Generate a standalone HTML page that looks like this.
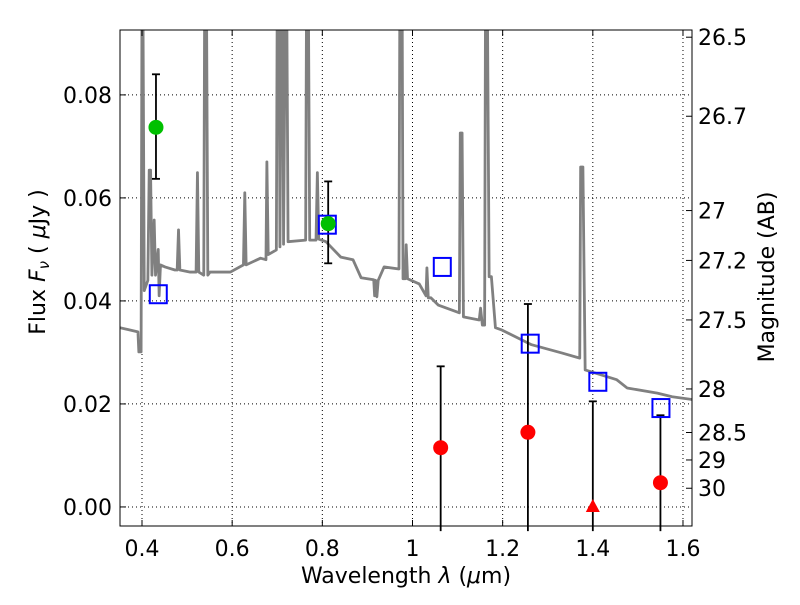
<!DOCTYPE html>
<html><head><meta charset="utf-8"><style>
body{margin:0;background:#fff}
svg text{font-family:"DejaVu Sans","Liberation Sans",sans-serif;font-size:22px;fill:#000}
</style></head><body>
<svg id="chart" width="800" height="600" xmlns="http://www.w3.org/2000/svg">
<g id="grid"></g>
<g id="spec"></g>
<g id="pts"></g>
<rect x="120" y="30" width="572" height="496" fill="none" stroke="#000" stroke-width="1"/>
<g id="axes"></g>
<text x="406" y="583" text-anchor="middle">Wavelength  <tspan font-style="italic">λ</tspan> (<tspan font-style="italic">μ</tspan>m)</text>
<text transform="translate(45,262) rotate(-90)" text-anchor="middle">Flux  <tspan font-style="italic">F<tspan font-size="15" dy="4">ν</tspan></tspan><tspan dy="-4">  (  <tspan font-style="italic">μ</tspan>Jy )</tspan></text>
<text transform="translate(774,277) rotate(-90)" text-anchor="middle">Magnitude (AB)</text>
</svg>
<script>
const xTicks=[0.4,0.6,0.8,1,1.2,1.4,1.6];
const yTicks=[0,0.02,0.04,0.06,0.08];
const magTicks=[26.5,26.7,27,27.2,27.5,28,28.5,29,30];
const specW=[0.351,0.391,0.393,0.398,0.400,0.402,0.405,0.413,0.416,0.419,0.422,0.427,0.430,0.436,0.438,0.441,0.451,0.473,0.478,0.481,0.484,0.507,0.520,0.523,0.526,0.537,0.539,0.543,0.546,0.551,0.596,0.625,0.628,0.631,0.663,0.675,0.677,0.680,0.698,0.700,0.704,0.706,0.709,0.712,0.714,0.718,0.721,0.724,0.763,0.765,0.769,0.772,0.786,0.789,0.792,0.808,0.841,0.868,0.886,0.914,0.916,0.918,0.921,0.924,0.937,0.970,0.972,0.977,0.979,0.984,0.986,0.989,1.015,1.030,1.032,1.035,1.041,1.057,1.104,1.106,1.110,1.113,1.148,1.151,1.155,1.160,1.162,1.166,1.170,1.175,1.184,1.197,1.264,1.331,1.371,1.373,1.378,1.383,1.453,1.476,1.543,1.576,1.625];
const specF=[0.0348,0.034,0.0301,0.0301,0.1,0.1,0.042,0.044,0.0654,0.0654,0.045,0.0557,0.045,0.05,0.041,0.047,0.0466,0.046,0.046,0.0538,0.046,0.0456,0.0456,0.0649,0.0456,0.045,0.1,0.1,0.045,0.0456,0.0456,0.047,0.061,0.047,0.0483,0.048,0.067,0.049,0.0499,0.1,0.1,0.0505,0.1,0.1,0.051,0.1,0.1,0.0515,0.0518,0.1,0.1,0.0518,0.0518,0.0649,0.052,0.0515,0.0485,0.048,0.0445,0.0441,0.041,0.044,0.0408,0.044,0.0466,0.0462,0.1,0.1,0.0443,0.0443,0.0509,0.0443,0.0433,0.041,0.0464,0.0406,0.0406,0.0392,0.0377,0.0726,0.0726,0.0369,0.0363,0.0386,0.0353,0.0353,0.1,0.1,0.0447,0.0447,0.0348,0.0344,0.0315,0.0299,0.0289,0.066,0.066,0.0266,0.0247,0.0231,0.0221,0.0214,0.0208];
const greenW=[0.431,0.813];
const greenF=[0.0737,0.055];
const greenLo=[0.0637,0.0473];
const greenHi=[0.084,0.0632];
const blueW=[0.435,0.81,1.065,1.26,1.41,1.55];
const blueF=[0.0413,0.0548,0.0466,0.0317,0.0243,0.0192];
const redW=[1.0625,1.256,1.55];
const redF=[0.0115,0.0145,0.0047];
const redHi=[0.0273,0.0394,0.0178];
const triW=[1.4];
const triF=[0.0];
const triHi=[0.0205];
const X0=120,X1=692,Y0=30,Y1=526,xmin=0.3512,xmax=1.62,ymin=-0.0037,ymax=0.0926;
const sx=v=>X0+(v-xmin)/(xmax-xmin)*(X1-X0);
const sy=v=>Y1-(v-ymin)/(ymax-ymin)*(Y1-Y0);
const NS='http://www.w3.org/2000/svg';
function mk(t,a,p){const e=document.createElementNS(NS,t);for(const k in a)e.setAttribute(k,a[k]);p.appendChild(e);return e;}
const grid=document.getElementById('grid'),axes=document.getElementById('axes'),spec=document.getElementById('spec'),pts=document.getElementById('pts');
xTicks.forEach(v=>{const x=sx(v);
const g=mk('line',{x1:x,x2:x,y1:Y0,y2:Y1,stroke:'#000','stroke-dasharray':'1,3','stroke-width':1},grid);

mk('line',{x1:x,x2:x,y1:Y1,y2:Y1-6,stroke:'#000'},axes);mk('line',{x1:x,x2:x,y1:Y0,y2:Y0+6,stroke:'#000'},axes);
const t=mk('text',{x:x,y:556,'text-anchor':'middle'},axes);t.textContent=(v===1?'1':v.toFixed(1));
});
yTicks.forEach(v=>{const y=sy(v);
const g=mk('line',{x1:X0,x2:X1,y1:y,y2:y,stroke:'#000','stroke-dasharray':'1,3','stroke-width':1},grid);

mk('line',{x1:X0,x2:X0+6,y1:y,y2:y,stroke:'#000'},axes);
const t=mk('text',{x:112,y:y+8,'text-anchor':'end'},axes);t.textContent=v.toFixed(2);
});
magTicks.forEach(m=>{const y=sy(Math.pow(10,(23.9-m)/2.5));
mk('line',{x1:X1,x2:X1-6,y1:y,y2:y,stroke:'#000'},axes);
const t=mk('text',{x:698,y:y+8},axes);t.textContent=String(m);
});
const cp=mk('clipPath',{id:'clip'},spec);mk('rect',{x:X0,y:Y0,width:X1-X0,height:Y1-Y0},cp);
const pl=mk('polyline',{points:specW.map((w,i)=>sx(w)+','+sy(specF[i])).join(' '),fill:'none',stroke:'#808080','stroke-width':2.8,'stroke-linejoin':'round','clip-path':'url(#clip)'},spec);

function err(x,lo,hi){mk('line',{x1:x,x2:x,y1:sy(lo),y2:sy(hi),stroke:'#000','stroke-width':1.8},pts);
[lo,hi].forEach(v=>{if(sy(v)<Y1)mk('line',{x1:x-4,x2:x+4,y1:sy(v),y2:sy(v),stroke:'#000','stroke-width':1.8},pts);});}
greenW.forEach((w,i)=>{err(sx(w),greenLo[i],greenHi[i]);});
redW.forEach((w,i)=>{err(sx(w),ymin-0.001,redHi[i]);});
triW.forEach((w,i)=>{err(sx(w),ymin-0.001,triHi[i]);});
blueW.forEach((w,i)=>{const r=mk('rect',{x:sx(w)-8,y:sy(blueF[i])-9,width:17,height:18,fill:'none',stroke:'#0000ff','stroke-width':2},pts);
});
greenW.forEach((w,i)=>{const c=mk('circle',{cx:sx(w),cy:sy(greenF[i]),r:7.5,fill:'#00c000'},pts);
});
redW.forEach((w,i)=>{const c=mk('circle',{cx:sx(w),cy:sy(redF[i]),r:7.5,fill:'#ff0000'},pts);
});
triW.forEach((w,i)=>{const x=sx(w),y=sy(triF[i]);const p=mk('polygon',{points:`${x},${y-8} ${x-7},${y+5} ${x+7},${y+5}`,fill:'#ff0000'},pts);
});
</script>
</body></html>
